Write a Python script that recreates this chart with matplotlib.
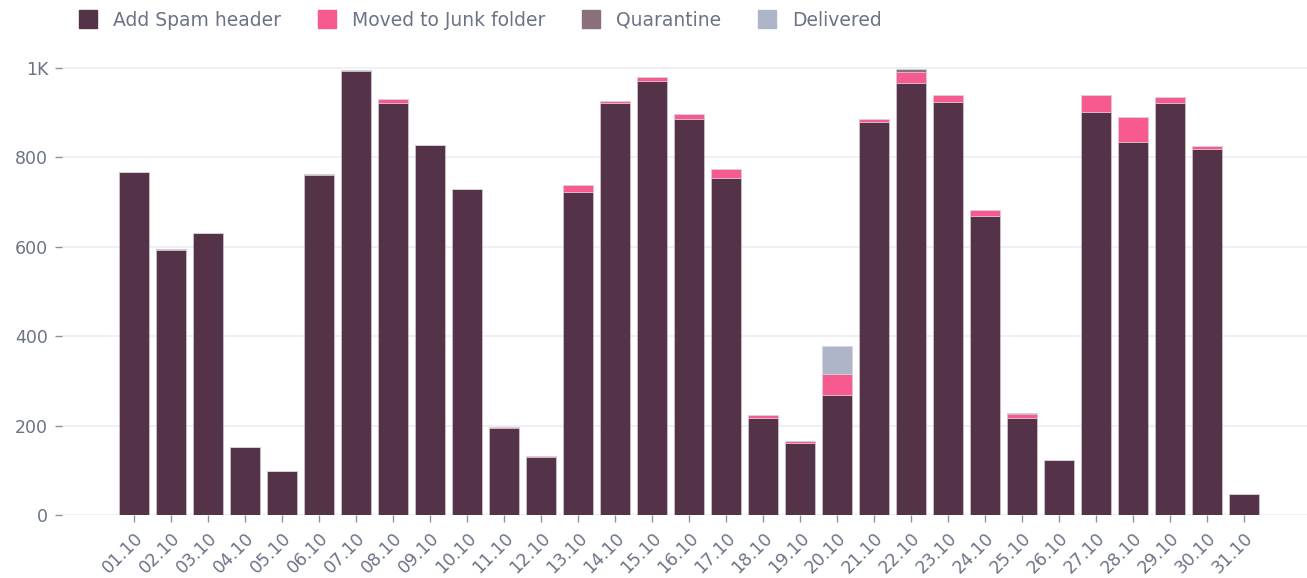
import matplotlib
matplotlib.use("Agg")
import matplotlib.pyplot as plt
from matplotlib.lines import Line2D
import numpy as np

plt.rcParams["font.family"] = ["DejaVu Sans"]

dates = ["01.10", "02.10", "03.10", "04.10", "05.10", "06.10", "07.10", "08.10", "09.10", "10.10",
         "11.10", "12.10", "13.10", "14.10", "15.10", "16.10", "17.10", "18.10", "19.10", "20.10",
         "21.10", "22.10", "23.10", "24.10", "25.10", "26.10", "27.10", "28.10", "29.10", "30.10", "31.10"]
spam = [768, 592, 631, 152, 98, 760, 993, 922, 828, 729,
        194, 130, 723, 922, 970, 885, 754, 216, 160, 269,
        880, 967, 925, 669, 217, 122, 901, 834, 922, 819, 47]
junk = [0, 0, 0, 0, 0, 0, 0, 9, 0, 0,
        2, 1, 15, 5, 9, 13, 20, 8, 5, 46,
        5, 25, 15, 13, 10, 2, 39, 57, 14, 6, 0]
quarantine = [0, 2, 0, 0, 0, 2, 2, 0, 0, 0,
              0, 0, 0, 0, 0, 0, 0, 0, 0, 0,
              0, 5, 0, 0, 1, 0, 0, 0, 0, 0, 0]
delivered = [0, 0, 0, 0, 0, 0, 0, 0, 0, 0,
             0, 0, 0, 0, 0, 0, 0, 0, 0, 64,
             0, 0, 0, 0, 0, 0, 0, 0, 0, 0, 0]

series = [("Add Spam header", spam, "#543247"),
          ("Moved to Junk folder", junk, "#f65a8e"),
          ("Quarantine", quarantine, "#8b6f7d"),
          ("Delivered", delivered, "#aeb5c8")]

text_color = "#6b7385"

fig = plt.figure(figsize=(13.07, 5.78), dpi=100)
ax = fig.add_axes([0.0474, 0.109, 0.9526, 0.812])

x = np.arange(len(dates))
bottom = np.zeros(len(dates))
for name, vals, col in series:
    v = np.array(vals, dtype=float)
    ax.bar(x, v, bottom=bottom, width=0.8, color=col, edgecolor=(0.85, 0.82, 0.85, 0.7),
           linewidth=0.6, zorder=3)
    bottom += v

ax.set_ylim(0, 1050)
ax.set_xlim(-1.95, 31.7)
ax.set_yticks([0, 200, 400, 600, 800, 1000])
ax.set_yticklabels(["0", "200", "400", "600", "800", "1K"])
ax.set_xticks(x)
ax.set_xticklabels(dates, rotation=45, ha="right", rotation_mode="anchor")
ax.yaxis.grid(True, color="#eceef2", linewidth=1.2, zorder=0)
for s in ax.spines.values():
    s.set_visible(False)
ax.tick_params(axis="y", colors="#8a90a0", labelcolor=text_color, labelsize=12.5, length=5, width=1, pad=5)
ax.tick_params(axis="x", colors="#8a90a0", labelcolor=text_color, labelsize=12.5, length=5, width=1, pad=5)

handles = [Line2D([0], [0], marker="s", linestyle="none", markersize=13,
                  markerfacecolor=col, markeredgecolor=col, label=name)
           for name, _, col in series]
fig.legend(handles=handles, loc="upper left", bbox_to_anchor=(0.0604, 0.981), ncol=4,
           frameon=False, fontsize=13.5, labelcolor=text_color, handletextpad=0.83,
           columnspacing=1.95, handlelength=1.0, borderpad=0, borderaxespad=0)

fig.savefig("out.png", dpi=100, facecolor="white")
